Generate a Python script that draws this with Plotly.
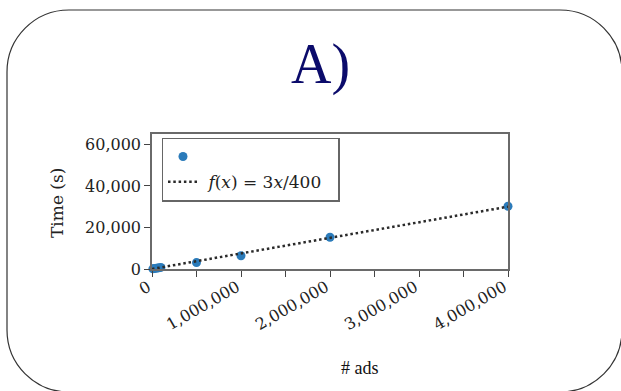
import plotly.graph_objects as go

# Measured runtimes for increasing numbers of ads
ads = [10000, 25000, 50000, 75000, 100000, 500000, 1000000, 2000000, 4000000]
time_s = [80, 190, 370, 560, 760, 3100, 6400, 15300, 30200]

# Linear reference f(x) = 3x/400
fit_x = [0, 4000000]
fit_y = [3 * v / 400 for v in fit_x]

x_tickvals = [0, 500000, 1000000, 1500000, 2000000, 2500000, 3000000, 3500000, 4000000]
x_ticktext = ["0", "", "1,000,000", "", "2,000,000", "", "3,000,000", "", "4,000,000"]
y_tickvals = [0, 20000, 40000, 60000]
y_ticktext = ["0", "20,000", "40,000", "60,000"]

W, H = 621, 391
SERIF = "DejaVu Serif"
TIMES = "Liberation Serif"
NBSP = "\u00a0"


def px(x, y):
    return x / W, 1 - y / H


def rounded_rect(x0, y0, x1, y1, r):
    k = 0.5523 * r

    def p(x, y):
        a, b = px(x, y)
        return f"{a:.5f},{b:.5f}"

    pts = [
        "M" + p(x0 + r, y0),
        "L" + p(x1 - r, y0),
        "C" + p(x1 - r + k, y0) + " " + p(x1, y0 + r - k) + " " + p(x1, y0 + r),
        "L" + p(x1, y1 - r),
        "C" + p(x1, y1 - r + k) + " " + p(x1 - r + k, y1) + " " + p(x1 - r, y1),
        "L" + p(x0 + r, y1),
        "C" + p(x0 + r - k, y1) + " " + p(x0, y1 - r + k) + " " + p(x0, y1 - r),
        "L" + p(x0, y0 + r),
        "C" + p(x0, y0 + r - k) + " " + p(x0 + r - k, y0) + " " + p(x0 + r, y0),
    ]
    return " ".join(pts) + " Z"


fig = go.Figure()

fig.add_trace(go.Scatter(
    x=ads, y=time_s, mode="markers", name="",
    marker=dict(color="#2b7bba", size=9),
    cliponaxis=False,
))
fig.add_trace(go.Scatter(
    x=fit_x, y=fit_y, mode="lines",
    name=NBSP + "<i>f</i>(<i>x</i>) = 3<i>x</i>/400" + NBSP + NBSP,
    line=dict(color="#2a2a2a", width=2.5, dash="2.5px,2.8px"),
))

axis_common = dict(
    showgrid=False, zeroline=False, showline=True, mirror=True,
    automargin=False,
    linecolor="#6a6a6a", linewidth=1.5,
    ticks="outside", ticklen=6, tickwidth=1.2, tickcolor="#444",
    tickfont=dict(family=SERIF, size=16, color="#222"),
)

l_, b_ = px(152, 269)
r_, t_ = px(508, 134)

fig.update_layout(
    width=W, height=H,
    margin=dict(l=0, r=0, t=0, b=0, pad=0),
    paper_bgcolor="white", plot_bgcolor="white",
    showlegend=True,
    xaxis=dict(axis_common, domain=[l_, r_], range=[0, 4000000],
               tickvals=x_tickvals, ticktext=x_ticktext, tickangle=-30,
               ticklabelstandoff=-5, ticklabelshift=-4),
    yaxis=dict(axis_common, domain=[b_, t_], range=[0, 65000],
               tickvals=y_tickvals, ticktext=y_ticktext),
    legend=dict(
        x=px(161.5, 0)[0], y=px(0, 137.5)[1], xanchor="left", yanchor="top",
        bgcolor="white", bordercolor="#666", borderwidth=1.5,
        font=dict(family=SERIF, size=17, color="#222"),
    ),
    shapes=[dict(
        type="path", xref="paper", yref="paper",
        path=rounded_rect(7, 10, 622, 392, 62),
        line=dict(color="#333", width=1.2),
    )],
    annotations=[
        dict(text="A)", xref="paper", yref="paper",
             x=px(320, 0)[0], y=px(0, 64)[1], xanchor="center", yanchor="middle",
             showarrow=False, font=dict(family=TIMES, size=56, color="#0b0b6b")),
        dict(text="Time (s)", xref="paper", yref="paper", textangle=-90,
             x=px(57, 0)[0], y=px(0, 203)[1], xanchor="center", yanchor="middle",
             showarrow=False, font=dict(family=SERIF, size=17, color="#222")),
        dict(text="# ads", xref="paper", yref="paper",
             x=px(360, 0)[0], y=px(0, 368)[1], xanchor="center", yanchor="middle",
             showarrow=False, font=dict(family=TIMES, size=18, color="#111")),
    ],
)

fig.write_html("out.html")
